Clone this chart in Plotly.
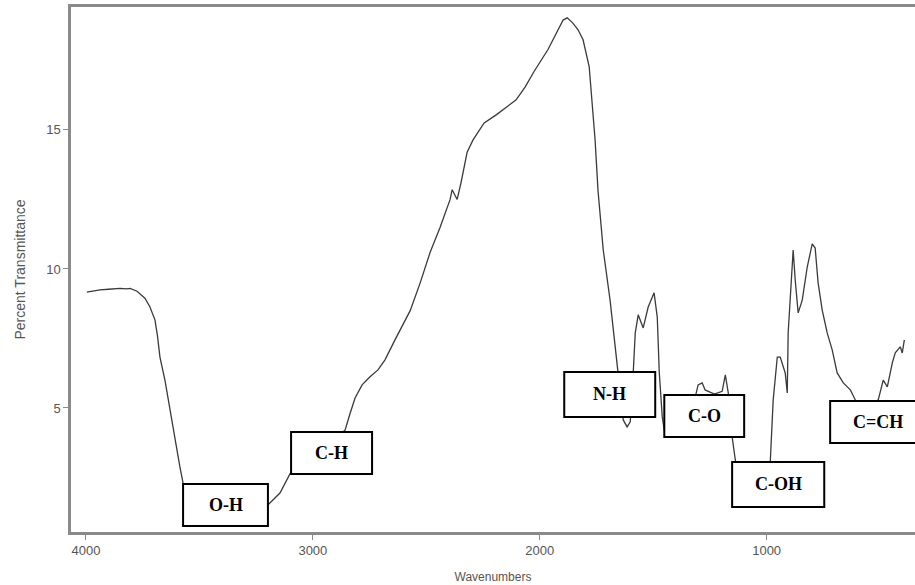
import plotly.graph_objects as go

wavenumber = [3996, 3960, 3938, 3900, 3850, 3820, 3806, 3775, 3740, 3718, 3696, 3685, 3674,
              3652, 3630, 3608, 3586, 3572, 3540, 3497, 3387, 3277, 3198, 3145, 3101, 3050,
              3012, 2924, 2858, 2836, 2814, 2783, 2748, 2713, 2682, 2638, 2571, 2527, 2483,
              2439, 2395, 2386, 2375, 2364, 2347, 2320, 2294, 2245, 2192, 2131, 2104, 2064,
              2025, 1963, 1897, 1879, 1855, 1831, 1809, 1782, 1769, 1756, 1743, 1720, 1690,
              1659, 1632, 1615, 1601, 1588, 1579, 1566, 1557, 1544, 1522, 1496, 1482, 1473,
              1460, 1447, 1420, 1381, 1340, 1310, 1302, 1284, 1271, 1257, 1230, 1196, 1182,
              1169, 1152, 1138, 1110, 1059, 1006, 984, 971, 953, 940, 918, 909, 905, 887, 883,
              874, 861, 843, 821, 799, 786, 773, 755, 733, 711, 689, 662, 631, 609, 565, 508,
              486, 468, 446, 433, 411, 402, 393]
transmittance = [9.17, 9.22, 9.25, 9.27, 9.30, 9.28, 9.30, 9.20, 8.95, 8.63, 8.17, 7.60, 6.83,
                 6.00, 4.93, 3.85, 2.88, 2.30, 1.80, 1.40, 1.10, 1.20, 1.51, 1.94, 2.63, 3.10,
                 3.35, 3.80, 4.20, 4.80, 5.36, 5.83, 6.12, 6.37, 6.73, 7.45, 8.50, 9.50, 10.60,
                 11.50, 12.50, 12.85, 12.70, 12.50, 13.10, 14.20, 14.64, 15.25, 15.54, 15.90,
                 16.08, 16.55, 17.10, 17.90, 18.95, 19.03, 18.85, 18.60, 18.24, 17.27, 16.08,
                 14.64, 12.80, 10.68, 8.88, 6.47, 4.57, 4.32, 4.50, 6.26, 7.70, 8.35, 8.17, 7.88,
                 8.63, 9.14, 8.27, 6.26, 4.68, 4.00, 3.95, 3.95, 4.50, 5.60, 5.83, 5.90, 5.65,
                 5.60, 5.50, 5.60, 6.19, 5.54, 3.96, 3.13, 2.00, 1.50, 1.60, 3.06, 5.29, 6.83,
                 6.83, 6.26, 5.54, 7.70, 9.96, 10.68, 9.60, 8.42, 8.88, 10.07, 10.90, 10.75,
                 9.50, 8.52, 7.70, 7.09, 6.26, 5.90, 5.65, 5.29, 5.00, 5.29, 6.00, 5.76, 6.62,
                 6.98, 7.20, 6.98, 7.45]

# Band label boxes: text, x0, x1 (wavenumber), y0, y1 (transmittance), text centre x
band_labels = ["O-H", "C-H", "N-H", "C-O", "C-OH", "C=CH"]
box_x0 = [3572, 3096, 1892, 1451, 1152, 720]
box_x1 = [3198, 2739, 1491, 1099, 746, 288]
box_y0 = [0.76, 2.63, 4.68, 3.96, 1.44, 3.74]
box_y1 = [2.27, 4.14, 6.29, 5.47, 3.06, 5.25]
text_x = [3385, 2918, 1692, 1275, 949, 508]

x_ticks = [4000, 3000, 2000, 1000]
y_ticks = [5, 10, 15]

fig = go.Figure()
fig.add_trace(go.Scatter(x=wavenumber, y=transmittance, mode="lines",
                         line=dict(color="#3a3a3a", width=1.3), showlegend=False,
                         hoverinfo="skip"))

for lab, x0, x1, y0, y1, tx in zip(band_labels, box_x0, box_x1, box_y0, box_y1, text_x):
    fig.add_shape(type="rect", xref="x", yref="y", x0=x0, x1=x1, y0=y0, y1=y1,
                  line=dict(color="black", width=2), fillcolor="white", layer="above")
    fig.add_annotation(x=tx, y=(y0 + y1) / 2, xref="x", yref="y", text="<b>%s</b>" % lab,
                       showarrow=False,
                       font=dict(family="Liberation Serif, Times New Roman, serif",
                                 size=18, color="black"))

axis_common = dict(showgrid=False, zeroline=False, showline=True, linecolor="#8a8a8a",
                   linewidth=2.5, ticks="outside", ticklen=5, tickwidth=1.2,
                   tickcolor="#8a8a8a",
                   tickfont=dict(family="Liberation Sans, Arial, sans-serif", size=13,
                                 color="#555555"))

fig.update_layout(
    width=915, height=585,
    margin=dict(l=71, r=0, t=7, b=53),
    paper_bgcolor="white", plot_bgcolor="white",
    xaxis=dict(range=[4066, 346], tickvals=x_ticks, mirror=True,
               title=dict(text="Wavenumbers", standoff=16,
                          font=dict(family="Liberation Sans, Arial, sans-serif", size=12,
                                    color="#555555")),
               **axis_common),
    yaxis=dict(range=[0.54, 19.42], tickvals=y_ticks,
               title=dict(text="Percent Transmittance", standoff=18,
                          font=dict(family="Liberation Sans, Arial, sans-serif", size=14,
                                    color="#555555")),
               **axis_common),
)

fig.write_html("out.html")
